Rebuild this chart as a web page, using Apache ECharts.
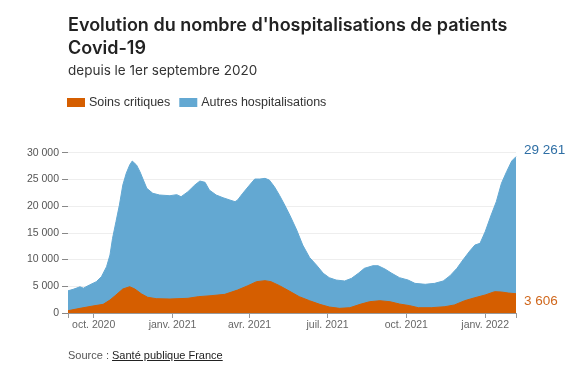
<!DOCTYPE html>
<html><head><meta charset="utf-8">
<script src="https://cdn.jsdelivr.net/npm/echarts@6/dist/echarts.min.js"></script>
<style>
html,body{margin:0;padding:0;background:#fff}
#c{width:585px;height:386px}
#src{position:absolute;left:68px;top:349px;font:11px "Liberation Sans",Arial,sans-serif;line-height:13px;color:#555}
#src span{color:#222;text-decoration:underline}
</style></head>
<body><div id="c"></div><div id="src">Source : <span>Santé publique France</span></div>
<script>
const totalDates = ['2020-09-01','2020-09-07','2020-09-15','2020-09-19','2020-09-26','2020-10-04','2020-10-10','2020-10-16','2020-10-20','2020-10-23','2020-10-27','2020-10-31','2020-11-04','2020-11-08','2020-11-12','2020-11-15','2020-11-20','2020-11-24','2020-11-28','2020-12-02','2020-12-09','2020-12-17','2020-12-29','2021-01-06','2021-01-11','2021-01-19','2021-01-27','2021-02-02','2021-02-08','2021-02-13','2021-02-21','2021-03-01','2021-03-09','2021-03-15','2021-03-18','2021-03-24','2021-04-01','2021-04-07','2021-04-13','2021-04-19','2021-04-24','2021-04-30','2021-05-06','2021-05-12','2021-05-18','2021-05-26','2021-06-02','2021-06-10','2021-06-18','2021-06-26','2021-07-03','2021-07-11','2021-07-21','2021-07-29','2021-08-06','2021-08-13','2021-08-23','2021-08-29','2021-09-06','2021-09-14','2021-09-23','2021-10-03','2021-10-11','2021-10-23','2021-11-03','2021-11-13','2021-11-21','2021-11-29','2021-12-06','2021-12-14','2021-12-20','2021-12-26','2022-01-01','2022-01-08','2022-01-14','2022-01-20','2022-01-26','2022-02-01','2022-02-06'];
const totalValues = [4150,4430,4900,4650,5240,5860,6790,8660,10850,13970,17090,20200,23950,26140,27700,28440,27700,26440,24880,23330,22400,22080,21950,22150,21760,22700,23950,24700,24450,23010,22080,21570,21140,20830,21140,22400,23950,25070,25070,25200,24880,23630,22000,20200,18300,15530,12720,10400,8980,7430,6610,6170,5990,6490,7430,8360,8850,8850,8230,7430,6610,6170,5550,5370,5550,5990,6980,8360,9920,11600,12720,13040,15210,18340,20830,24270,26440,28440,29261];

const criticalDates = ['2020-09-01','2020-09-15','2020-09-30','2020-10-12','2020-10-20','2020-10-27','2020-11-04','2020-11-12','2020-11-18','2020-11-26','2020-12-03','2020-12-13','2020-12-29','2021-01-19','2021-01-31','2021-02-15','2021-03-03','2021-03-18','2021-03-30','2021-04-09','2021-04-19','2021-04-26','2021-05-06','2021-05-18','2021-05-29','2021-06-10','2021-06-22','2021-07-03','2021-07-15','2021-07-27','2021-08-08','2021-08-19','2021-08-31','2021-09-12','2021-09-23','2021-10-05','2021-10-15','2021-10-30','2021-11-15','2021-11-26','2021-12-08','2021-12-20','2022-01-01','2022-01-12','2022-01-20','2022-01-28','2022-02-06'];
const criticalValues = [430,870,1310,1620,2430,3370,4490,4920,4490,3550,2940,2680,2620,2750,3050,3240,3490,4300,5110,5860,6050,5860,5110,4050,3050,2300,1620,1120,870,990,1620,2110,2300,2110,1680,1370,990,990,1180,1500,2300,2860,3370,3990,3930,3740,3606];

const tickDates = ['2020-10-01','2021-01-01','2021-04-01','2021-07-01','2021-10-01','2022-01-01'];
const tickLabels = ['oct. 2020','janv. 2021','avr. 2021','juil. 2021','oct. 2021','janv. 2022'];
const startDate = '2020-09-01';
const endDate = '2022-02-06';

const BLUE = '#63a8d2';
const ORANGE = '#d55e00';
const fmt = n => String(n).replace(/\B(?=(\d{3})+(?!\d))/g, ' ');
const ts = d => Date.parse(d + 'T00:00:00Z');
const tickTs = tickDates.map(ts);

const chart = echarts.init(document.getElementById('c'), null, {renderer:'canvas'});
chart.setOption({
  animation: false,
  title: [{
    left: 68, top: 14, padding: 0,
    text: "Evolution du nombre d'hospitalisations de patients\nCovid-19",
    textStyle: {fontFamily: 'Inter', fontWeight: 600, fontSize: 18, lineHeight: 23.3, color: '#222'}
  }, {
    left: 68, top: 64, padding: 0,
    text: 'depuis le 1er septembre 2020',
    textStyle: {fontFamily: 'Inter', fontWeight: 400, fontSize: 13.5, color: '#333'}
  }],
  legend: {
    left: 67, top: 96, padding: 0, itemGap: 9,
    icon: 'rect', itemWidth: 18, itemHeight: 9,
    data: ['Soins critiques', 'Autres hospitalisations'],
    textStyle: {fontFamily: 'Liberation Sans', fontSize: 12.5, color: '#333', padding: [0,0,0,-1]},
    selectedMode: false
  },
  grid: {left: 68, right: 69, top: 152.7, bottom: 73},
  xAxis: {
    type: 'value', min: ts(startDate), max: ts(endDate),
    axisLine: {lineStyle: {color: '#999'}},
    axisTick: {show: true, length: 5, lineStyle: {color: '#999'}, customValues: [ts(startDate)].concat(tickTs, [ts(endDate)])},
    axisLabel: {
      customValues: tickTs, color: '#666', fontFamily: 'Liberation Sans', fontSize: 10.5, margin: 7,
      formatter: v => { const i = tickTs.findIndex(t => Math.abs(t - v) < 43200000); return i >= 0 ? tickLabels[i] : ''; }
    },
    splitLine: {show: false}
  },
  yAxis: {
    type: 'value', min: 0, max: 30000, interval: 5000,
    axisLine: {show: false},
    axisTick: {show: true, length: 6, lineStyle: {color: '#888'}},
    axisLabel: {color: '#555', fontFamily: 'Liberation Sans', fontSize: 10.5, margin: 9, formatter: v => fmt(v)},
    splitLine: {lineStyle: {color: '#eeeeee'}}
  },
  series: [
    {
      name: 'Autres hospitalisations', type: 'line', z: 1,
      data: totalDates.map((d, i) => [ts(d), totalValues[i]]),
      showSymbol: false, symbol: 'none',
      lineStyle: {width: 1, color: BLUE}, itemStyle: {color: BLUE},
      areaStyle: {color: BLUE, opacity: 1},
      endLabel: {show: true, formatter: () => fmt(totalValues[totalValues.length - 1]), color: '#2f6fa5', fontFamily: 'Liberation Sans', fontSize: 13.5, distance: 8, offset: [0, -6]}
    },
    {
      name: 'Soins critiques', type: 'line', z: 2,
      data: criticalDates.map((d, i) => [ts(d), criticalValues[i]]),
      showSymbol: false, symbol: 'none',
      lineStyle: {width: 1, color: ORANGE}, itemStyle: {color: ORANGE},
      areaStyle: {color: ORANGE, opacity: 1},
      endLabel: {show: true, formatter: () => fmt(criticalValues[criticalValues.length - 1]), color: '#d0671c', fontFamily: 'Liberation Sans', fontSize: 13.5, distance: 8, offset: [0, 8]}
    }
  ]
});
</script></body></html>
